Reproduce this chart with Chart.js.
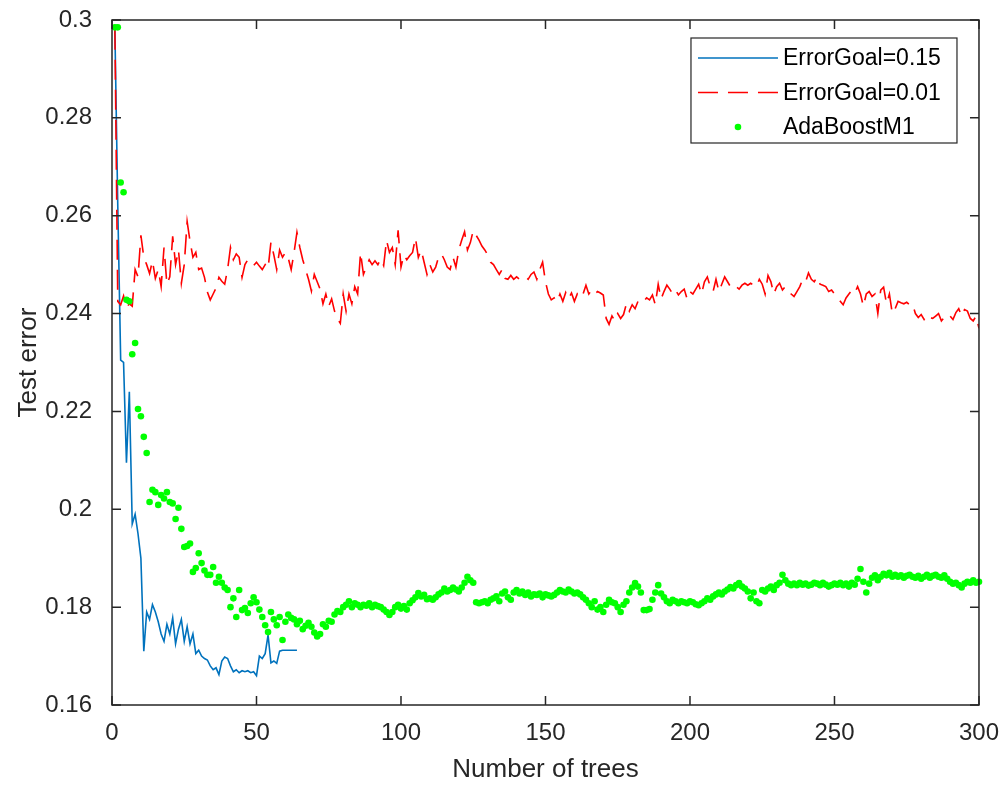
<!DOCTYPE html>
<html>
<head>
<meta charset="utf-8">
<script src="https://cdn.jsdelivr.net/npm/chart.js@4/dist/chart.umd.min.js"></script>
<style>
  html, body { margin: 0; padding: 0; background: #fff; }
  #wrap { width: 1005px; height: 787px; }
</style>
</head>
<body>
<div id="wrap"><canvas id="errChart" width="1005" height="787"></canvas></div>
<script>
// test error per number of trees (tree n = index + 1)
var goal015 = [
  0.298, 0.262, 0.2305, 0.2300, 0.2095, 0.2240, 0.1970, 0.1990, 0.1950, 0.1900,
  0.1710, 0.1790, 0.1775, 0.1805, 0.1790, 0.1770, 0.1745, 0.1730, 0.1765, 0.1745,
  0.1778, 0.1725, 0.1755, 0.1775, 0.1730, 0.1760, 0.1725, 0.1745, 0.1705, 0.1712,
  0.1700, 0.1695, 0.1692, 0.1680, 0.1672, 0.1676, 0.1662, 0.1690, 0.1698, 0.1695,
  0.1680, 0.1668, 0.1672, 0.1666, 0.1670, 0.1668, 0.1670, 0.1666, 0.1668, 0.1660,
  0.1700, 0.1695, 0.1705, 0.1743, 0.1686, 0.1690, 0.1685, 0.1710, 0.1712, 0.1712,
  0.1712, 0.1712, 0.1712, 0.1712
];

var goal001 = [
  0.298, 0.2425, 0.2418, 0.2436, 0.2412, 0.2420, 0.2415, 0.2490, 0.2475, 0.2560,
  0.2515, 0.2500, 0.2482, 0.2508, 0.2472, 0.2490, 0.2455, 0.2535, 0.2460, 0.2475,
  0.2558, 0.2500, 0.2530, 0.2462, 0.2500, 0.2588, 0.2548, 0.2515, 0.2525, 0.2490,
  0.2493, 0.2474, 0.2444, 0.2428, 0.2440, 0.2452, 0.2474, 0.2466, 0.2460, 0.2490,
  0.2535, 0.2510, 0.2522, 0.2515, 0.2474, 0.2500, 0.2510, 0.2505, 0.2498, 0.2505,
  0.2497, 0.2490, 0.2500, 0.2492, 0.2546, 0.2520, 0.2490, 0.2530, 0.2515, 0.2525,
  0.2513, 0.2490, 0.2525, 0.2566, 0.2535, 0.2510, 0.2490, 0.2470, 0.2446, 0.2480,
  0.2465, 0.2450, 0.2420, 0.2440, 0.2415, 0.2430, 0.2405, 0.2390, 0.2380, 0.2440,
  0.2405, 0.2440, 0.2420, 0.2455, 0.2440, 0.2525, 0.2480, 0.2495, 0.2510, 0.2500,
  0.2508, 0.2500, 0.2512, 0.2498, 0.2550, 0.2525, 0.2535, 0.2500, 0.2570, 0.2495,
  0.2520, 0.2510, 0.2518, 0.2525, 0.2555, 0.2515, 0.2530, 0.2505, 0.2480, 0.2500,
  0.2485, 0.2495, 0.2515, 0.2522, 0.2510, 0.2495, 0.2490, 0.2515, 0.2495, 0.2530,
  0.2550, 0.2567, 0.2530, 0.2545, 0.2570, 0.2560, 0.2550, 0.2538, 0.2530, 0.2520,
  0.2505, 0.2500, 0.2490, 0.2480, 0.2490, 0.2472, 0.2470, 0.2478, 0.2470, 0.2475,
  0.2470, 0.2472, 0.2476, 0.2470, 0.2480, 0.2485, 0.2470, 0.2490, 0.2505, 0.2465,
  0.2440, 0.2428, 0.2432, 0.2424, 0.2440, 0.2425, 0.2443, 0.2430, 0.2442, 0.2425,
  0.2440, 0.2432, 0.2440, 0.2458, 0.2440, 0.2448, 0.2440, 0.2445, 0.2442, 0.2438,
  0.2390, 0.2378, 0.2395, 0.2385, 0.2400, 0.2390, 0.2398, 0.2420, 0.2405, 0.2418,
  0.2410, 0.2425, 0.2430, 0.2425, 0.2432, 0.2428, 0.2438, 0.2418, 0.2460, 0.2430,
  0.2445, 0.2458, 0.2450, 0.2440, 0.2448, 0.2438, 0.2445, 0.2450, 0.2430, 0.2445,
  0.2440, 0.2450, 0.2460, 0.2440, 0.2465, 0.2475, 0.2455, 0.2445, 0.2470, 0.2445,
  0.2460, 0.2475, 0.2465, 0.2455, 0.2450, 0.2455, 0.2450, 0.2458, 0.2462, 0.2458,
  0.2462, 0.2458, 0.2455, 0.2470, 0.2460, 0.2440, 0.2478, 0.2465, 0.2440, 0.2455,
  0.2462, 0.2448, 0.2455, 0.2445, 0.2440, 0.2435, 0.2445, 0.2455, 0.2470, 0.2465,
  0.2483, 0.2470, 0.2465, 0.2475, 0.2460, 0.2458, 0.2455, 0.2445, 0.2448, 0.2440,
  0.2435, 0.2425, 0.2418, 0.2432, 0.2440, 0.2448, 0.2442, 0.2455, 0.2440, 0.2415,
  0.2440, 0.2445, 0.2435, 0.2440, 0.2400, 0.2448, 0.2454, 0.2420, 0.2440, 0.2400,
  0.2410, 0.2425, 0.2422, 0.2420, 0.2423, 0.2418, 0.2420, 0.2400, 0.2392, 0.2398,
  0.2388, 0.2398, 0.2392, 0.2390, 0.2395, 0.2400, 0.2385, 0.2392, 0.2388, 0.2395,
  0.2388, 0.2402, 0.2410, 0.2395, 0.2408, 0.2405, 0.2390, 0.2385, 0.2395, 0.2370
];

var adaBoost = [
  0.2985, 0.2985, 0.2668, 0.2648, 0.2428, 0.2425, 0.2317, 0.2340, 0.2205, 0.2190,
  0.2148, 0.2115, 0.2015, 0.2040, 0.2035, 0.2009, 0.2029, 0.2022, 0.2035, 0.2015,
  0.2012, 0.1980, 0.2003, 0.1960, 0.1923, 0.1925, 0.1930, 0.1872, 0.1880, 0.1910,
  0.1890, 0.1875, 0.1866, 0.1866, 0.1882, 0.1850, 0.1862, 0.1850, 0.1840, 0.1835,
  0.1800, 0.1818, 0.1780, 0.1835, 0.1794, 0.1798, 0.1788, 0.1808, 0.1820, 0.1810,
  0.1795, 0.1780, 0.1763, 0.1749, 0.1790, 0.1775, 0.1763, 0.1780, 0.1733, 0.1770,
  0.1785, 0.1778, 0.1775, 0.1765, 0.1772, 0.1755, 0.1762, 0.1768, 0.1760, 0.1748,
  0.1740, 0.1745, 0.1765, 0.1760, 0.1772, 0.1770, 0.1785, 0.1792, 0.1790, 0.1800,
  0.1805, 0.1812, 0.1800, 0.1808, 0.1805, 0.1800, 0.1805, 0.1803, 0.1808, 0.1800,
  0.1805, 0.1802, 0.1800, 0.1795, 0.1790, 0.1784, 0.1790, 0.1800, 0.1805, 0.1797,
  0.1802, 0.1795, 0.1808, 0.1814, 0.1820, 0.1829, 0.1822, 0.1825, 0.1816, 0.1818,
  0.1815, 0.1820, 0.1826, 0.1830, 0.1838, 0.1832, 0.1835, 0.1840, 0.1836, 0.1832,
  0.1840, 0.1850, 0.1862, 0.1855, 0.1850, 0.1810, 0.1808, 0.1810, 0.1812, 0.1808,
  0.1815, 0.1818, 0.1822, 0.1812, 0.1828, 0.1832, 0.1820, 0.1815, 0.1830, 0.1835,
  0.1828, 0.1832, 0.1825, 0.1830, 0.1822, 0.1826, 0.1825, 0.1828, 0.1820, 0.1826,
  0.1824, 0.1822, 0.1825, 0.1830, 0.1835, 0.1832, 0.1830, 0.1836, 0.1832, 0.1828,
  0.1830, 0.1826, 0.1820, 0.1815, 0.1808, 0.1800, 0.1812, 0.1795, 0.1800, 0.1790,
  0.1805, 0.1815, 0.1810, 0.1808, 0.1800, 0.1790, 0.1805, 0.1812, 0.1830, 0.1840,
  0.1849, 0.1842, 0.1830, 0.1794, 0.1794, 0.1796, 0.1815, 0.1830, 0.1845, 0.1828,
  0.1820, 0.1812, 0.1808, 0.1815, 0.1812, 0.1808, 0.1812, 0.1810, 0.1808, 0.1812,
  0.1810, 0.1806, 0.1804, 0.1808, 0.1812, 0.1818, 0.1815, 0.1822, 0.1826, 0.1830,
  0.1826, 0.1832, 0.1836, 0.1841, 0.1838, 0.1845, 0.1849, 0.1842, 0.1838, 0.1832,
  0.1818, 0.1830, 0.1812, 0.1808, 0.1835, 0.1832, 0.1838, 0.1842, 0.1835, 0.1845,
  0.1850, 0.1866, 0.1855, 0.1848, 0.1845, 0.1848, 0.1845, 0.1850, 0.1846, 0.1848,
  0.1844, 0.1846, 0.1850, 0.1848, 0.1845, 0.1850, 0.1846, 0.1842, 0.1845, 0.1848,
  0.1846, 0.1850, 0.1845, 0.1848, 0.1842, 0.1850, 0.1846, 0.1858, 0.1878, 0.1852,
  0.1830, 0.1848, 0.1860, 0.1865, 0.1855, 0.1862, 0.1868, 0.1865, 0.1870, 0.1862,
  0.1866, 0.1862, 0.1865, 0.1860, 0.1864, 0.1866, 0.1862, 0.1860, 0.1864, 0.1858,
  0.1862, 0.1866, 0.1860, 0.1864, 0.1866, 0.1862, 0.1860, 0.1865, 0.1858, 0.1852,
  0.1848, 0.1850, 0.1845, 0.1840, 0.1848, 0.1852, 0.1850, 0.1855, 0.1850, 0.1852
];

var seriesNames = ['ErrorGoal=0.15', 'ErrorGoal=0.01', 'AdaBoostM1'];
var xTicks = [0, 50, 100, 150, 200, 250, 300];
var yTicks = [0.16, 0.18, 0.2, 0.22, 0.24, 0.26, 0.28, 0.3];

var axisColor = '#262626';
var fontFam = '"Liberation Sans", Arial, Helvetica, sans-serif';

function toPoints(arr) {
    return arr.map(function (v, i) { return { x: i + 1, y: v }; });
}

// box round the axes + inward tick marks, like matlab "box on"
var boxPlugin = {
    id: 'boxPlugin',
    afterDatasetsDraw: function (chart) {
        var ctx = chart.ctx, a = chart.chartArea;
        var xs = chart.scales.x, ys = chart.scales.y;
        var tl = 9;
        ctx.save();
        ctx.strokeStyle = axisColor;
        ctx.lineWidth = 1.5;
        ctx.strokeRect(a.left, a.top, a.right - a.left, a.bottom - a.top);
        ctx.beginPath();
        xTicks.forEach(function (t) {
            var px = xs.getPixelForValue(t);
            ctx.moveTo(px, a.bottom); ctx.lineTo(px, a.bottom - tl);
            ctx.moveTo(px, a.top); ctx.lineTo(px, a.top + tl);
        });
        yTicks.forEach(function (t) {
            var py = ys.getPixelForValue(t);
            ctx.moveTo(a.left, py); ctx.lineTo(a.left + tl, py);
            ctx.moveTo(a.right, py); ctx.lineTo(a.right - tl, py);
        });
        ctx.stroke();
        ctx.restore();
    },
    afterDraw: function (chart) {
        // legend box in the top right corner
        var ctx = chart.ctx, a = chart.chartArea;
        var ds = chart.data.datasets;
        var bw = 266, bh = 105;
        var bx = a.right - 22 - bw, by = a.top + 18;
        ctx.save();
        ctx.fillStyle = '#fff';
        ctx.fillRect(bx, by, bw, bh);
        ctx.strokeStyle = axisColor;
        ctx.lineWidth = 1.2;
        ctx.strokeRect(bx, by, bw, bh);
        ctx.font = '23px ' + fontFam;
        ctx.textBaseline = 'middle';
        ctx.textAlign = 'left';
        for (var i = 0; i < ds.length; i++) {
            var rowY = by + 20 + i * 34.5;
            var x0 = bx + 7, x1 = bx + 87;
            if (ds[i].showLine === false) {
                ctx.fillStyle = ds[i].pointBackgroundColor;
                ctx.beginPath();
                ctx.arc((x0 + x1) / 2, rowY, ds[i].pointRadius, 0, Math.PI * 2);
                ctx.fill();
            } else {
                ctx.strokeStyle = ds[i].borderColor;
                ctx.lineWidth = ds[i].borderWidth;
                ctx.setLineDash(ds[i].borderDash || []);
                ctx.beginPath();
                ctx.moveTo(x0, rowY);
                ctx.lineTo(x1, rowY);
                ctx.stroke();
                ctx.setLineDash([]);
            }
            ctx.fillStyle = '#000';
            ctx.fillText(ds[i].label, x1 + 5, rowY + 1);
        }
        ctx.restore();
    }
};

var ctx = document.getElementById('errChart');
var errChart = new Chart(ctx, {
    type: 'line',
    data: {
        datasets: [
            {
                label: seriesNames[0],
                data: toPoints(goal015),
                borderColor: '#0072BD',
                borderWidth: 1.6,
                pointRadius: 0,
                tension: 0,
                order: 2
            },
            {
                label: seriesNames[1],
                data: toPoints(goal001),
                borderColor: '#FF0000',
                borderWidth: 1.6,
                borderDash: [20, 10],
                pointRadius: 0,
                tension: 0,
                order: 1
            },
            {
                label: seriesNames[2],
                data: toPoints(adaBoost),
                showLine: false,
                pointRadius: 3.3,
                pointBorderWidth: 0,
                pointBackgroundColor: '#00FF00',
                pointBorderColor: '#00FF00',
                clip: false,
                order: 0
            }
        ]
    },
    options: {
        responsive: false,
        animation: false,
        events: [],
        layout: { padding: { left: 0, top: 20, right: 20, bottom: 0 } },
        plugins: {
            legend: { display: false },
            tooltip: { enabled: false }
        },
        scales: {
            x: {
                type: 'linear',
                min: 0,
                max: 300,
                afterFit: function (s) { s.height = 82; },
                afterBuildTicks: function (s) { s.ticks = xTicks.map(function (v) { return { value: v }; }); },
                grid: { display: false },
                border: { display: false },
                ticks: {
                    autoSkip: false,
                    maxRotation: 0,
                    padding: 6,
                    color: axisColor,
                    font: { family: fontFam, size: 24 }
                },
                title: {
                    display: true,
                    text: 'Number of trees',
                    color: axisColor,
                    font: { family: fontFam, size: 26 },
                    padding: { top: 0, bottom: 2 }
                }
            },
            y: {
                type: 'linear',
                min: 0.16,
                max: 0.3,
                afterFit: function (s) { s.width = 112; s.paddingTop = 0; s.paddingBottom = 0; },
                afterBuildTicks: function (s) { s.ticks = yTicks.map(function (v) { return { value: v }; }); },
                grid: { display: false },
                border: { display: false },
                ticks: {
                    autoSkip: false,
                    padding: 12,
                    color: axisColor,
                    font: { family: fontFam, size: 24, lineHeight: 1 },
                    callback: function (v) { return String(+v.toFixed(2)); }
                },
                title: {
                    display: true,
                    text: 'Test error',
                    color: axisColor,
                    font: { family: fontFam, size: 26 },
                    padding: { top: 13, bottom: 0 }
                }
            }
        }
    },
    plugins: [boxPlugin]
});
</script>
</body>
</html>
